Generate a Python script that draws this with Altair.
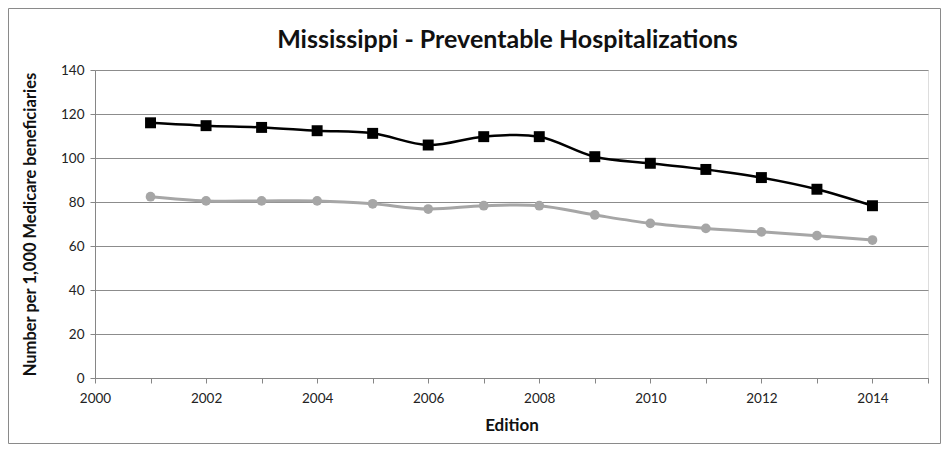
import altair as alt
import pandas as pd

years = [2001, 2002, 2003, 2004, 2005, 2006, 2007, 2008, 2009, 2010, 2011, 2012, 2013, 2014]
mississippi = [116.0, 114.7, 113.9, 112.4, 111.2, 105.9, 109.7, 109.7, 100.6, 97.6, 94.8, 91.1, 85.8, 78.3]
national = [82.4, 80.5, 80.5, 80.5, 79.2, 76.8, 78.3, 78.3, 74.1, 70.3, 68.0, 66.4, 64.7, 62.7]
x_ticks = list(range(2000, 2016))
y_ticks = [0, 20, 40, 60, 80, 100, 120, 140]
chart_title = "Mississippi - Preventable Hospitalizations"

df_ms = pd.DataFrame({"Edition": years, "Value": mississippi})
df_us = pd.DataFrame({"Edition": years, "Value": national})

FONT = "Lato"
W, H = 833, 308
PL, PT, PR, PB = 87, 62, 13, 66

x_enc = alt.X("Edition:Q", scale=alt.Scale(domain=[2000, 2015], nice=False, zero=False),
              axis=alt.Axis(title="Edition", values=x_ticks, format="d",
                            labelExpr="datum.value % 2 == 0 ? datum.label : ''",
                            labelFlush=False,
                            grid=False, domainColor="#868686", tickColor="#868686",
                            tickSize=5, labelFontSize=13.5, labelColor="#222222",
                            labelFont=FONT, labelPadding=8,
                            titleFont=FONT, titleFontSize=17, titleFontWeight="bold",
                            titleColor="#111111", titlePadding=13))
y_enc = alt.Y("Value:Q", scale=alt.Scale(domain=[0, 140], nice=False),
              axis=alt.Axis(title="Number per 1,000 Medicare beneficiaries", values=y_ticks,
                            grid=True, gridColor="#8c8c8c", gridWidth=1,
                            domainColor="#868686", tickColor="#868686", tickSize=5,
                            labelFontSize=13.5, labelColor="#222222", labelFont=FONT,
                            labelPadding=6,
                            titleFont=FONT, titleFontSize=16.5, titleFontWeight="bold",
                            titleColor="#111111", titlePadding=22))

line_us = alt.Chart(df_us).mark_line(color="#A6A6A6", strokeWidth=3, interpolate="catmull-rom").encode(x=x_enc, y=y_enc)
pts_us = alt.Chart(df_us).mark_point(shape="circle", filled=True, color="#A6A6A6", size=95, opacity=1).encode(x="Edition:Q", y="Value:Q")
line_ms = alt.Chart(df_ms).mark_line(color="#000000", strokeWidth=2.5, interpolate="catmull-rom").encode(x="Edition:Q", y="Value:Q")
pts_ms = alt.Chart(df_ms).mark_point(shape="square", filled=True, color="#000000", size=120, opacity=1).encode(x="Edition:Q", y="Value:Q")

border = alt.Chart(pd.DataFrame({"a": [0]})).mark_rect(
    fill="transparent", stroke="#8a8a8a", strokeWidth=1, clip=False
).encode(
    x=alt.value(-PL + 0.5), x2=alt.value(W + PR - 0.5),
    y=alt.value(-PT + 0.5), y2=alt.value(H + PB - 0.5)
)

title_mark = alt.Chart(pd.DataFrame({"t": [chart_title]})).mark_text(
    font=FONT, fontSize=25, fontWeight="bold", color="#111111",
    align="center", baseline="middle", clip=False
).encode(text="t:N", x=alt.value(W / 2 - 4), y=alt.value(-30))

chart = alt.layer(border, title_mark, line_us, pts_us, line_ms, pts_ms).properties(
    width=W, height=H,
    autosize=alt.AutoSizeParams(type="none"),
    padding={"left": PL, "top": PT, "right": PR, "bottom": PB},
).configure_view(stroke=None).configure(background="white")

chart.save("out.html", embed_options={"renderer": "svg", "actions": False})
